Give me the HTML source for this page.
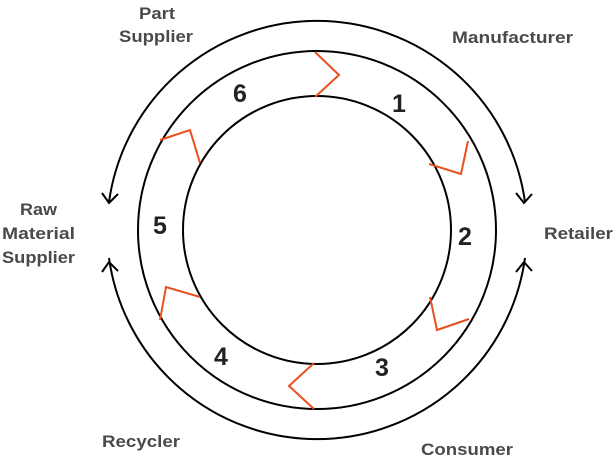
<!DOCTYPE html>
<html><head><style>
body{margin:0;background:#fff}
svg{display:block}
.l{font-family:"Liberation Sans",sans-serif;font-weight:bold;font-size:17px;fill:#4a4a4a}
.n{font-family:"Liberation Sans",sans-serif;font-weight:bold;font-size:25px;fill:#222}
</style></head><body>
<svg width="614" height="460" viewBox="0 0 614 460">
<g fill="none" stroke="#000" stroke-width="2">
<circle cx="317" cy="230" r="179"/>
<circle cx="317" cy="230" r="134"/>
<path d="M109 202 A210 210 0 0 1 525 202"/>
<path d="M109 258 A210 210 0 0 0 525 258"/>
<path d="M102 193 L109 203 L118 194"/>
<path d="M516 193 L524 203 L532 194"/>
<path d="M102 272 L109 262 L118 271"/>
<path d="M516 272 L524 262 L532 271"/>
</g>
<g fill="none" stroke="#e8501e" stroke-width="2">
<path d="M315 52 L339 75 L315 97"/>
<path d="M468 141 L461 174 L429 164"/>
<path d="M430 297 L437 330 L469 319"/>
<path d="M314 409 L289 386 L314 363"/>
<path d="M160 320 L166 287 L200 297"/>
<path d="M160 140 L190 130 L200 163"/>
</g>
<text class="n" x="392" y="112">1</text>
<text class="n" x="458" y="245">2</text>
<text class="n" x="375" y="376">3</text>
<text class="n" x="214" y="365">4</text>
<text class="n" x="153" y="234">5</text>
<text class="n" x="233" y="102">6</text>
<text class="l" x="139" y="19" textLength="36" lengthAdjust="spacingAndGlyphs">Part</text>
<text class="l" x="119" y="42" textLength="74" lengthAdjust="spacingAndGlyphs">Supplier</text>
<text class="l" x="452" y="43" textLength="121" lengthAdjust="spacingAndGlyphs">Manufacturer</text>
<text class="l" x="544" y="239" textLength="69" lengthAdjust="spacingAndGlyphs">Retailer</text>
<text class="l" x="20" y="215" textLength="37" lengthAdjust="spacingAndGlyphs">Raw</text>
<text class="l" x="2" y="239" textLength="73" lengthAdjust="spacingAndGlyphs">Material</text>
<text class="l" x="2" y="263" textLength="73" lengthAdjust="spacingAndGlyphs">Supplier</text>
<text class="l" x="102" y="447" textLength="78" lengthAdjust="spacingAndGlyphs">Recycler</text>
<text class="l" x="421" y="455" textLength="92" lengthAdjust="spacingAndGlyphs">Consumer</text>
</svg>
</body></html>
